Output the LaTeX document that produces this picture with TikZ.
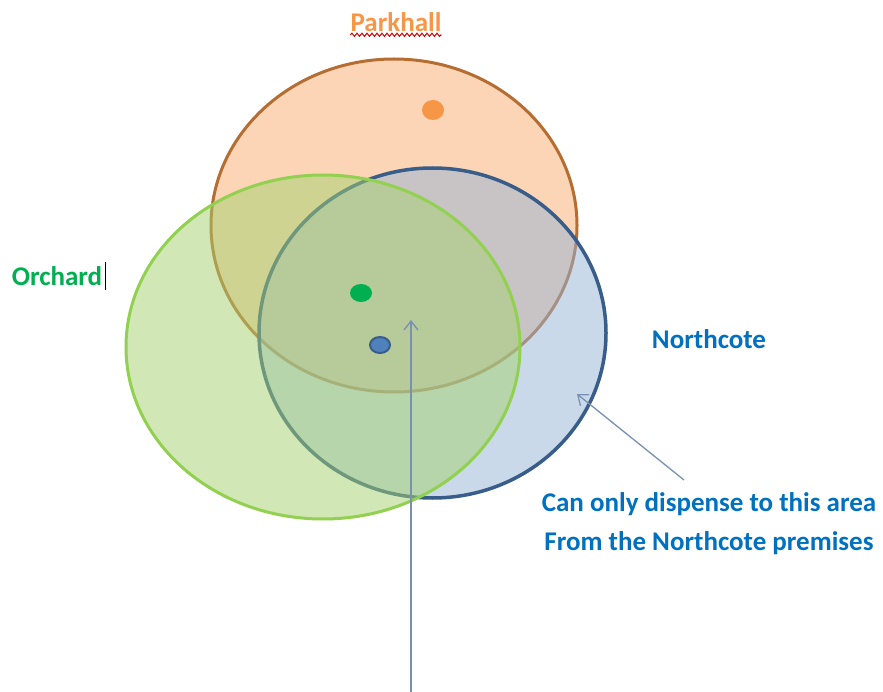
\documentclass[tikz,border=0pt]{standalone}
\usepackage{fontspec}
\setmainfont{Carlito}
\usetikzlibrary{shapes.geometric,arrows.meta,decorations.pathmorphing}
\definecolor{parkline}{RGB}{182,109,49}
\definecolor{parkfill}{RGB}{251,213,181}
\definecolor{orchline}{RGB}{146,208,80}
\definecolor{orchfill}{RGB}{165,210,110}
\definecolor{northline}{RGB}{56,93,138}
\definecolor{northfill}{RGB}{150,180,215}
\definecolor{parktext}{RGB}{247,150,70}
\definecolor{orchtext}{RGB}{0,176,80}
\definecolor{northtext}{RGB}{0,112,192}
\definecolor{pointer}{RGB}{120,144,178}
\tikzset{
  area/.style={ellipse,inner sep=0pt,line width=3pt},
  spot/.style={ellipse,inner sep=0pt},
  label/.style={font=\fontsize{27}{39}\selectfont\bfseries,inner sep=0pt},
  pointerline/.style={draw=pointer,line width=1.3pt,-{Straight Barb[length=9pt,width=14pt,line width=1.3pt]}}
}
\begin{document}
\begin{tikzpicture}[x=1pt,y=-1pt]
  \useasboundingbox[fill=white] (0,0) rectangle (883,692);
  % the three catchment areas
  \node[area,draw=parkline,fill=parkfill,minimum width=366pt,minimum height=333pt] (park) at (394,225.5) {};
  \node[area,draw=northline,fill=northfill,fill opacity=0.5,line width=3.5pt,minimum width=347pt,minimum height=330pt] (north) at (432.5,333) {};
  \node[area,draw=orchline,fill=orchfill,fill opacity=0.5,minimum width=394pt,minimum height=344pt] (orch) at (323,347) {};
  % premises
  \node[spot,fill=parktext,minimum width=22pt,minimum height=20pt] (parkdot) at (433,110) {};
  \node[spot,fill=orchtext,minimum width=22pt,minimum height=18pt] (orchdot) at (361,293) {};
  \node[spot,fill={rgb,255:red,79;green,129;blue,189},draw=northline,line width=2pt,minimum width=20pt,minimum height=16pt] (northdot) at (380,345) {};
  % names
  \node[label,text=parktext] (parkname) at (396,22) {Parkhall};
  \draw[red!85!black,line width=1pt,decorate,decoration={snake,amplitude=1.6pt,segment length=5pt}]
    ([yshift=-3pt]parkname.south west) -- ([yshift=-3pt]parkname.south east);
  \node[label,text=orchtext] (orchname) at (57,276) {Orchard};
  \draw[black,line width=1pt] ([xshift=3pt]orchname.east |- 0,262) -- ([xshift=3pt]orchname.east |- 0,290);
  \node[label,text=northtext] (northname) at (709,339) {Northcote};
  \node[label,text=northtext,align=center] (note) at (709,524) {Can only dispense to this area\\From the Northcote premises};
  % pointers
  \coordinate (footA) at (411,692);
  \coordinate (headA) at (411,320);
  \coordinate (footB) at (684,480);
  \coordinate (headB) at (577,394);
  \draw[pointerline] (footA) -- (headA);
  \draw[pointerline] (footB) -- (headB);
\end{tikzpicture}
\end{document}
